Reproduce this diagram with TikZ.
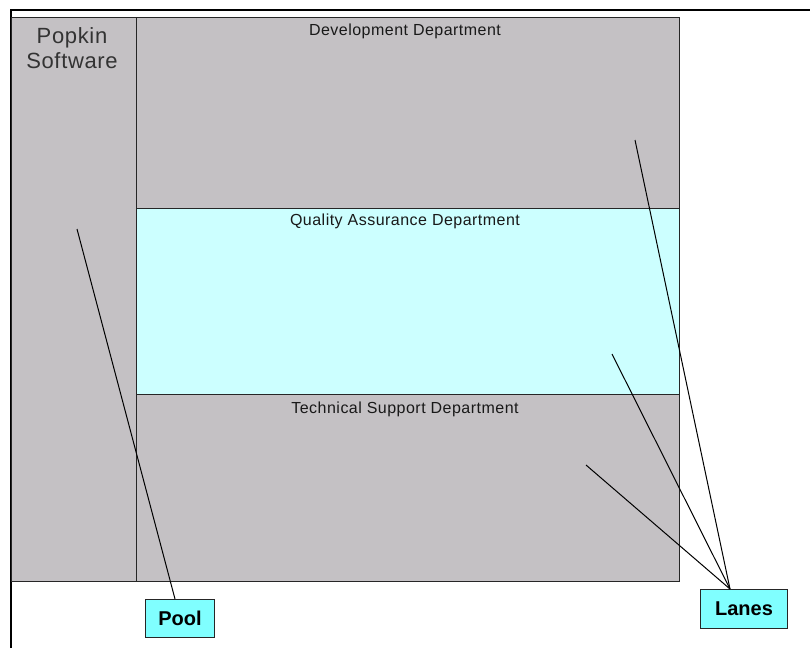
\documentclass[tikz,border=0pt]{standalone}
\usepackage{fontspec}
\setmainfont{Liberation Sans}
\newfontfamily\spacedsans[LetterSpace=3]{Liberation Sans}
\definecolor{poolgray}{RGB}{196,193,196}
\definecolor{qacyan}{RGB}{204,255,255}
\definecolor{labcyan}{RGB}{128,255,255}
\begin{document}
\begin{tikzpicture}[x=1pt,y=-1pt,
  lanebox/.style={draw=black!85, line width=1pt, inner sep=0pt, anchor=north west},
  lanetitle/.style={font=\spacedsans\fontsize{16}{18}\selectfont, text=black!90},
  callout/.style={draw=black!85, line width=1pt, fill=labcyan, inner sep=0pt, anchor=north west},
  callouttext/.style={font=\fontsize{20}{22}\selectfont\bfseries},
  leader/.style={draw=black, line width=1pt}]
\useasboundingbox (0,0) rectangle (810,648);
\fill[white] (0,0) rectangle (810,648);
% outer frame
\draw[line width=2pt] (10.5,648) -- (10.5,9.5) -- (810,9.5);
% pool
\node[lanebox, fill=poolgray, minimum width=125pt, minimum height=564pt] (poolhead) at (10.5,17) {};
\node[lanebox, fill=poolgray, minimum width=543pt, minimum height=191pt] (dev) at (135.5,17) {};
\node[lanebox, fill=qacyan, minimum width=543pt, minimum height=186pt] (qa) at (135.5,208) {};
\node[lanebox, fill=poolgray, minimum width=543pt, minimum height=187pt] (ts) at (135.5,394) {};
\node[font=\spacedsans\fontsize{22}{25}\selectfont, text=black!80, align=center] (pooltitle) at (72,48) {Popkin\\Software};
\node[lanetitle] (devtitle) at (405,31) {Development Department};
\node[lanetitle] (qatitle) at (405,221) {Quality Assurance Department};
\node[lanetitle] (tstitle) at (405,409) {Technical Support Department};
% callouts
\node[callout, minimum width=69pt, minimum height=38pt] (poollab) at (145,599) {};
\node[callouttext] (pooltext) at (poollab.center) {Pool};
\node[callout, minimum width=87pt, minimum height=39pt] (laneslab) at (700,589) {};
\node[callouttext] (lanestext) at (laneslab.center) {Lanes};
\coordinate (pin) at (77,229);
\coordinate (poolend) at (175,599);
\coordinate (d1) at (635,140);
\coordinate (d2) at (612,354);
\coordinate (d3) at (586,465);
\coordinate (lanesend) at (730,589);
\draw[leader] (pin) -- (poolend);
\draw[leader] (d1) -- (lanesend);
\draw[leader] (d2) -- (lanesend);
\draw[leader] (d3) -- (lanesend);
\end{tikzpicture}
\end{document}
